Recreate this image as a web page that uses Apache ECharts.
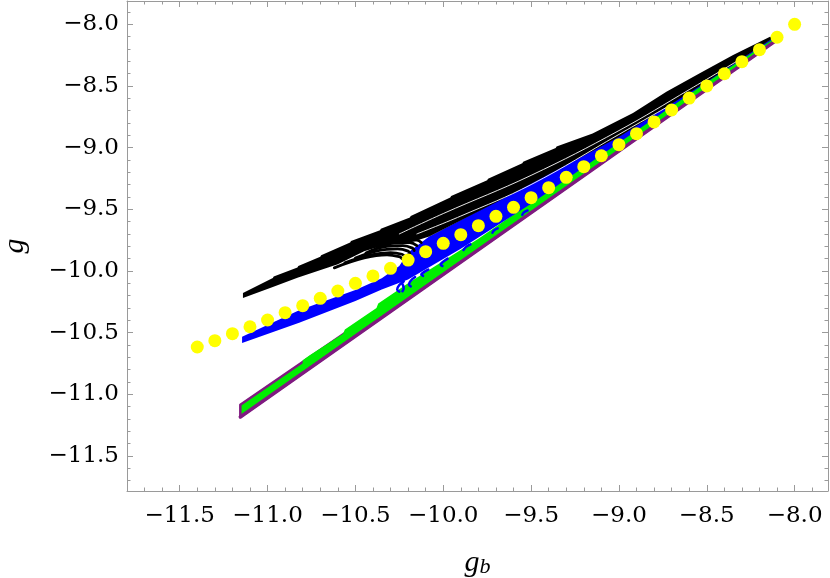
<!DOCTYPE html>
<html>
<head>
<meta charset="utf-8">
<script src="https://cdn.jsdelivr.net/npm/echarts@6/dist/echarts.min.js"></script>
<style>
html,body{margin:0;padding:0;background:#fff;}
#chart{width:830px;height:578px;}
</style>
</head>
<body>
<div id="chart"></div>
<script>
// ---- tick values ----
const majorTicks = [-11.5, -11.0, -10.5, -10.0, -9.5, -9.0, -8.5, -8.0];
const minorTicks = [-11.7,-11.6,-11.4,-11.3,-11.2,-11.1,-10.9,-10.8,-10.7,-10.6,-10.4,-10.3,-10.2,-10.1,
  -9.9,-9.8,-9.7,-9.6,-9.4,-9.3,-9.2,-9.1,-8.9,-8.8,-8.7,-8.6,-8.4,-8.3,-8.2,-8.1,-7.9];

// ---- yellow dots ----
const dotX = [-11.4,-11.3,-11.2,-11.1,-11.0,-10.9,-10.8,-10.7,-10.6,-10.5,-10.4,-10.3,-10.2,-10.1,-10.0,
  -9.9,-9.8,-9.7,-9.6,-9.5,-9.4,-9.3,-9.2,-9.1,-9.0,-8.9,-8.8,-8.7,-8.6,-8.5,-8.4,-8.3,-8.2,-8.1,-8.0];
const dotY = [-10.617,-10.566,-10.509,-10.453,-10.398,-10.339,-10.282,-10.222,-10.163,-10.101,-10.041,-9.979,-9.912,-9.844,-9.776,
  -9.706,-9.633,-9.557,-9.484,-9.406,-9.325,-9.241,-9.155,-9.066,-8.976,-8.887,-8.792,-8.695,-8.598,-8.500,-8.401,-8.303,-8.206,-8.105,-8.000];

// ---- purple / green band (g = g_b) ----
const purpleLine = [[-11.155,-11.185],[-8.10,-8.125]];
const purpleBand = [[-11.155,-11.185],[-8.10,-8.125],[-8.10,-8.10],[-11.155,-11.085]];
const greenTop = [[-10.80,-10.725],[-10.76,-10.685],[-10.57,-10.51],[-10.56,-10.475],[-10.38,-10.30],
  [-10.37,-10.265],[-10.20,-10.10],[-9.80,-9.74],[-9.20,-9.15],[-8.60,-8.56],[-8.10,-8.09]];
const greenBottom = [[-8.10,-8.11],[-10.80,-10.81]];

// ---- blue band ----
const blueTop = [[-11.145,-10.535],[-10.82,-10.32],[-10.50,-10.155],[-10.35,-10.06],[-10.25,-9.96],
  [-10.20,-9.85],[-10.08,-9.72],[-9.70,-9.44],[-9.00,-8.91],[-8.50,-8.46],[-8.10,-8.09]];
const blueBottom = [[-8.10,-8.10],[-8.50,-8.47],[-9.00,-8.96],[-9.50,-9.455],[-9.90,-9.82],[-10.20,-10.07],
  [-10.35,-10.15],[-10.50,-10.245],[-10.82,-10.42],[-11.145,-10.585]];
const hookA = [[-10.225,-10.085],[-10.25,-10.115],[-10.262,-10.15],[-10.25,-10.168]];
const hookA2 = [[-10.235,-10.10],[-10.225,-10.14],[-10.232,-10.165]];
const hookB = [[-10.16,-10.05],[-10.185,-10.08],[-10.195,-10.11],[-10.185,-10.125]];
const hookC = [[-10.085,-9.99],[-10.11,-10.01],[-10.125,-10.03],[-10.115,-10.04]];
const hookD = [[-9.975,-9.90],[-10.0,-9.925],[-10.015,-9.95],[-10.005,-9.96]];
const hookE = [[-9.845,-9.785],[-9.87,-9.805],[-9.885,-9.83]];
const hookF = [[-9.69,-9.655],[-9.71,-9.67],[-9.72,-9.69]];
const hookG = [[-9.52,-9.51],[-9.54,-9.525],[-9.55,-9.545]];

// ---- black curves ----
const blackTop = [[-11.14,-10.18],[-10.97,-10.058],[-10.965,-10.046],[-10.83,-9.972],[-10.825,-9.96],
  [-10.70,-9.886],[-10.695,-9.874],[-10.53,-9.77],[-10.525,-9.758],[-10.36,-9.67],[-10.355,-9.658],
  [-10.19,-9.566],[-10.185,-9.554],[-9.96,-9.404],[-9.955,-9.392],[-9.75,-9.265],[-9.745,-9.253],
  [-9.55,-9.127],[-9.545,-9.115],[-9.36,-9.004],[-9.355,-8.992],[-9.15,-8.885],[-8.92,-8.719],
  [-8.73,-8.547],[-8.54,-8.397],[-8.35,-8.249],[-8.14,-8.10]];
const blackBottom = [[-8.12,-8.11],[-8.50,-8.465],[-9.00,-8.915],[-9.70,-9.445],[-10.08,-9.72],
  [-10.20,-9.775],[-10.30,-9.775],[-10.45,-9.84],[-10.60,-9.945],[-10.83,-10.055],[-10.97,-10.13],[-11.14,-10.22]];
const whiteGap1 = [[-10.25,-9.70],[-10.0,-9.535],[-9.5,-9.225],[-9.0,-8.862],[-8.6,-8.53],[-8.3,-8.275]];
const whiteGap2 = [[-10.15,-9.70],[-9.9,-9.555],[-9.5,-9.30],[-9.0,-8.893],[-8.7,-8.65]];
const fan1 = [[-10.62,-9.975],[-10.45,-9.895],[-10.32,-9.87],[-10.25,-9.885],[-10.235,-9.90]];
const fan2 = [[-10.56,-9.935],[-10.42,-9.872],[-10.30,-9.852],[-10.235,-9.865],[-10.218,-9.885]];
const fan3 = [[-10.50,-9.895],[-10.37,-9.835],[-10.26,-9.822],[-10.20,-9.84],[-10.19,-9.86]];
const fan4 = [[-10.44,-9.855],[-10.32,-9.80],[-10.23,-9.795],[-10.175,-9.815],[-10.165,-9.835]];
const fan5 = [[-10.38,-9.815],[-10.28,-9.775],[-10.19,-9.77],[-10.15,-9.795]];
const fan6 = [[-10.32,-9.78],[-10.22,-9.748],[-10.15,-9.75],[-10.125,-9.77]];

const SERIF = '"DejaVu Serif", "Liberation Serif", serif';
const XMIN = -11.8, XMAX = -7.81, YMIN = -11.785, YMAX = -7.811;
const frameColor = '#9a9a9a';

function fmt(v){ return (v < 0 ? '\u2212' : '') + Math.abs(v).toFixed(1); }

function axisPair(kind, pos, withLabel, nameCfg){
  const base = {
    type:'value', min: kind==='x'?XMIN:YMIN, max: kind==='x'?XMAX:YMAX, position: pos,
    splitLine:{show:false}, z: 10
  };
  const major = Object.assign({}, base, {
    axisLine:{show:true, lineStyle:{color:frameColor, width:1}},
    axisTick:{show:true, inside:true, length:6, customValues: majorTicks, lineStyle:{color:frameColor, width:1}},
    axisLabel: withLabel ? {show:true, customValues: majorTicks, formatter: fmt, color:'#000',
      fontFamily: SERIF, fontSize: 23, margin: kind==='x'?14:8} : {show:false}
  }, nameCfg || {});
  const minor = Object.assign({}, base, {
    axisLine:{show:false},
    axisTick:{show:true, inside:true, length:3.5, customValues: minorTicks, lineStyle:{color:frameColor, width:1}},
    axisLabel:{show:false}
  });
  return [major, minor];
}

function poly(name, pts, fill, stroke, lw, z){
  return {
    type:'custom', name: name, coordinateSystem:'cartesian2d', xAxisIndex:0, yAxisIndex:0,
    data: pts, z: z, silent:true, animation:false,
    renderItem: function(params, api){
      if (params.dataIndex !== 0) return null;
      const points = pts.map(p => api.coord(p));
      return {type:'polygon', shape:{points: points},
        style:{fill: fill, stroke: stroke || null, lineWidth: lw || 0, lineJoin:'round'}};
    }
  };
}
function line(name, pts, color, w, z, smooth){
  return {type:'line', name:name, data: pts, xAxisIndex:0, yAxisIndex:0, showSymbol:false, symbol:'none',
    smooth: smooth ? 0.4 : false, lineStyle:{color:color, width:w, cap:'round', join:'round'},
    z:z, silent:true, animation:false};
}

const xAxes = [].concat(
  axisPair('x','bottom',true,{name:'{g|g}{b|b}', nameLocation:'middle', nameGap:57,
    nameTextStyle:{rich:{
      g:{fontFamily:'"Liberation Serif", serif', fontStyle:'italic', fontSize:30, color:'#000', verticalAlign:'bottom', lineHeight:30},
      b:{fontFamily:'"Liberation Serif", serif', fontStyle:'italic', fontSize:22, color:'#000', verticalAlign:'bottom', lineHeight:24}}}}),
  axisPair('x','top',false)
);
const yAxes = [].concat(
  axisPair('y','left',true,{name:'g', nameLocation:'middle', nameGap:97, nameRotate:90,
    nameTextStyle:{fontFamily:'"Liberation Serif", serif', fontStyle:'italic', fontSize:30, color:'#000'}}),
  axisPair('y','right',false)
);

const hooks = [hookA, hookA2, hookB, hookC, hookD, hookE, hookF, hookG];
const fans = [fan1, fan2, fan3, fan4, fan5, fan6];

const chart = echarts.init(document.getElementById('chart'), null, {renderer:'canvas'});
chart.setOption({
  backgroundColor:'#fff',
  animation:false,
  grid:{left:127, right:2, top:1, bottom:87, containLabel:false, outerBoundsMode:'none'},
  xAxis: xAxes,
  yAxis: yAxes,
  series: [
    poly('purpleBand', purpleBand, '#00ee00', '#7f1a80', 2.5, 1),
    line('purple', purpleLine, '#7f1a80', 3.5, 2),
    poly('green', greenTop.concat(greenBottom), '#00ee00', null, 0, 3),
    poly('blue', blueTop.concat(blueBottom), '#0000ff', null, 0, 4)
  ].concat(
    hooks.map((h,i) => line('hook'+i, h, '#0000ff', 2.5, 4, true)),
    [
      poly('black', blackTop.concat(blackBottom), '#000', null, 0, 5),
      line('gap1', whiteGap1, '#ffffff', 0.9, 6, true),
      line('gap2', whiteGap2, '#ffffff', 0.9, 6, true)
    ],
    fans.map((f,i) => line('fan'+i, f, '#000', 2.8, 6, true)),
    [{type:'scatter', name:'dots', data: dotX.map((x,i)=>[x, dotY[i]]), symbol:'circle', symbolSize:13,
      itemStyle:{color:'#ffff00', opacity:1}, z:8, silent:true, animation:false}]
  )
});
</script>
</body>
</html>
